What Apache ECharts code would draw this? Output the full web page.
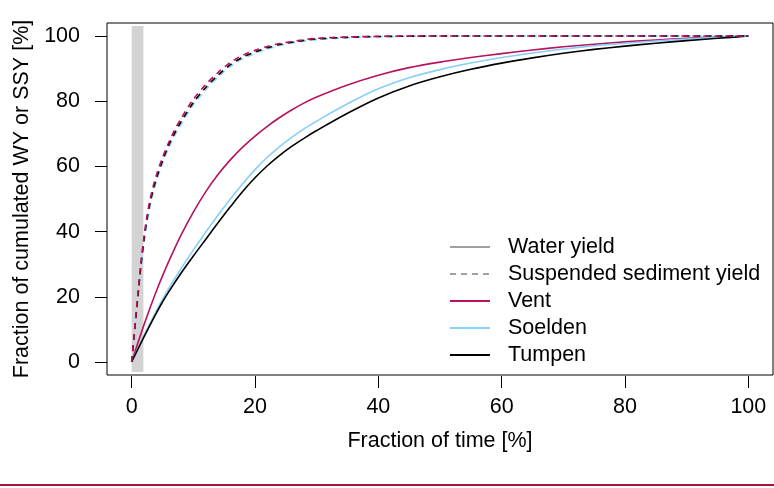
<!DOCTYPE html>
<html>
<head>
<meta charset="utf-8">
<script src="https://cdn.jsdelivr.net/npm/echarts@6/dist/echarts.min.js"></script>
<style>html,body{margin:0;padding:0;background:#fff;}#c{width:774px;height:488px;}</style>
</head>
<body>
<div id="c"></div>
<script>
// Water yield (WY) curves
const xWY = [0,1,2,3,4,5,6,8,10,12,14,16,18,20,22,24,26,28,30,35,40,45,50,55,60,65,70,75,80,85,90,95,100];
const ventWY    = [0,5.8,11.4,16.7,21.7,26.4,30.8,38.9,46.0,52.2,57.5,62.0,65.9,69.3,72.3,75.0,77.4,79.5,81.3,85.0,88.0,90.3,92.0,93.4,94.6,95.7,96.7,97.5,98.2,98.8,99.3,99.7,100];
const soeldenWY = [0,4.1,8.1,12.0,15.7,19.2,22.5,28.6,34.3,39.8,45.0,50.0,54.7,59.0,62.8,66.1,69.0,71.6,73.9,79.2,83.8,87.2,89.7,91.7,93.4,94.8,96.0,97.0,97.8,98.5,99.1,99.6,100];
const tumpenWY  = [0,3.9,7.7,11.4,15.0,18.4,21.5,27.2,32.5,37.6,42.7,47.6,52.3,56.5,60.2,63.4,66.2,68.7,71.0,76.3,81.0,84.7,87.5,89.8,91.7,93.3,94.7,95.9,96.9,97.8,98.6,99.3,100];
// Suspended sediment yield (SSY) curves
const xSSY = [0,0.5,1,1.5,2,2.5,3,3.5,4,5,6,7,8,10,12,14,16,18,20,22,24,27,30,35,40,50,60,80,100];
const ventSSY    = [0,10.5,20.8,30.5,38.5,45,50,54,57.3,62.7,67.3,71.3,74.7,80.6,85.1,88.8,91.9,94.1,95.6,96.8,97.7,98.6,99.3,99.7,99.9,100,100,100,100];
const soeldenSSY = [0,9.5,19.2,28.5,36.5,43,48,52,55.3,60.9,65.7,69.5,72.9,78.9,83.5,87.4,90.6,93,94.7,96,97.1,98.2,98.9,99.5,99.8,100,100,100,100];
const tumpenSSY  = [0,10,20,29.5,37.5,44,49,53,56.3,61.7,66.5,70.3,73.7,79.6,84.2,88,91.2,93.5,95.1,96.4,97.4,98.4,99.1,99.6,99.85,100,100,100,100];
// shaded band
const bandX = [0, 1.9];
const bandY = [-3.1, 103.1];
// ticks
const xTicks = [0,20,40,60,80,100];
const yTicks = [0,20,40,60,80,100];
const legendNames = ['Water yield','Suspended sediment yield','Vent','Soelden','Tumpen'];

const FONT = '"Liberation Sans", Arial, sans-serif';
const FS = 21.5;
const C_VENT = '#B8125E', C_SOEL = '#87CEFA', C_TUMP = '#000000';

function pairs(xs, ys){ return xs.map((x,i)=>[x, ys[i]]); }
function line(name, xs, ys, color, dashed){
  return {
    name: name, type:'line', data: pairs(xs, ys), showSymbol:false, symbol:'none',
    smooth:0.3, silent:true,
    lineStyle:{color:color, width:1.6, type: dashed ? [6,5] : 'solid'},
    itemStyle:{color:color}
  };
}

const chart = echarts.init(document.getElementById('c'), null, {renderer:'canvas'});
chart.setOption({
  animation:false,
  backgroundColor:'#fff',
  grid:{left:107, right:1, top:23, bottom:113, show:true, borderColor:'#000', borderWidth:1, backgroundColor:'transparent'},
  xAxis:{
    type:'value', min:-4, max:104, offset:1,
    axisLine:{show:false, onZero:false},
    axisTick:{show:true, length:12, customValues:xTicks, lineStyle:{color:'#000', width:1}},
    axisLabel:{customValues:xTicks, margin:20, fontSize:FS, color:'#000', fontFamily:FONT},
    splitLine:{show:false},
    name:'Fraction of time [%]', nameLocation:'middle', nameGap:54,
    nameTextStyle:{fontSize:FS, color:'#000', fontFamily:FONT}
  },
  yAxis:{
    type:'value', min:-4, max:104,
    axisLine:{show:false, onZero:false},
    axisTick:{show:true, length:12, customValues:yTicks, lineStyle:{color:'#000', width:1}},
    axisLabel:{customValues:yTicks, margin:27, fontSize:FS, color:'#000', fontFamily:FONT},
    splitLine:{show:false},
    name:'Fraction of cumulated WY or SSY [%]', nameLocation:'middle', nameGap:56, nameRotate:90,
    nameTextStyle:{fontSize:FS, color:'#000', fontFamily:FONT}
  },
  legend:{
    data:legendNames, orient:'vertical', left:444, top:231,
    itemWidth:40, itemHeight:14, itemGap:5, selectedMode:false,
    itemStyle:{opacity:0},
    textStyle:{fontSize:FS, color:'#000', fontFamily:FONT, padding:[0,0,0,13]}
  },
  graphic:[{type:'line', shape:{x1:0, y1:485, x2:774, y2:485}, style:{stroke:'#A8123E', lineWidth:2}, silent:true}],
  series:[
    {name:'band', type:'line', data:[], silent:true, z:1,
     markArea:{silent:true, itemStyle:{color:'#D3D3D3'},
       data:[[{xAxis:bandX[0], yAxis:bandY[0]},{xAxis:bandX[1], yAxis:bandY[1]}]]}},
    {name:'Water yield', type:'line', data:[], symbol:'none', lineStyle:{color:'#A0A0A0', width:1.6, type:'solid'}, itemStyle:{color:'#A0A0A0'}},
    {name:'Suspended sediment yield', type:'line', data:[], symbol:'none', lineStyle:{color:'#A0A0A0', width:1.6, type:[6,5]}, itemStyle:{color:'#A0A0A0'}},
    line('Vent', xWY, ventWY, C_VENT, false),
    line('Soelden', xWY, soeldenWY, C_SOEL, false),
    line('Tumpen', xWY, tumpenWY, C_TUMP, false),
    line('Soelden', xSSY, soeldenSSY, C_SOEL, true),
    line('Tumpen', xSSY, tumpenSSY, C_TUMP, true),
    line('Vent', xSSY, ventSSY, C_VENT, true)
  ]
});
</script>
</body>
</html>
